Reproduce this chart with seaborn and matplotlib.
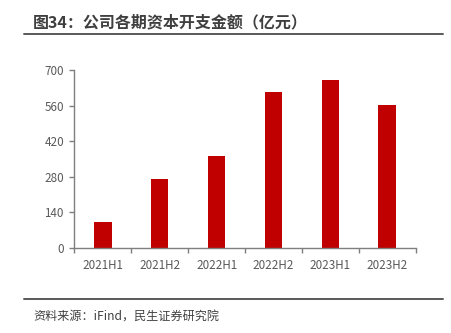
import matplotlib
matplotlib.use("Agg")
import matplotlib.pyplot as plt
from matplotlib.lines import Line2D
from matplotlib.ticker import FixedLocator
import seaborn as sns
import pandas as pd

# Capital expenditure by half-year (100 million yuan)
periods = ["2021H1", "2021H2", "2022H1", "2022H2", "2023H1", "2023H2"]
capex = [102, 270, 360, 613, 660, 562]
y_ticks = [0, 140, 280, 420, 560, 700]

title = "图34：公司各期资本开支金额（亿元）"
source = "资料来源：iFind，民生证券研究院"

sns.set_theme(style="white")
plt.rcParams["font.family"] = ["Noto Sans CJK SC", "DejaVu Sans"]

df = pd.DataFrame({"period": periods, "capex": capex})

fig = plt.figure(figsize=(4.52, 3.33), dpi=100)
ax = fig.add_axes([0.1644, 0.2562, 0.7553, 0.5327])

sns.barplot(data=df, x="period", y="capex", color="#C00000", width=0.31,
            saturation=1, linewidth=0, ax=ax)

axis_color = "#7f7f7f"
label_color = "#595959"

ax.set_xlim(-0.5, len(periods) - 0.5)
ax.set_ylim(0, 700)
ax.set_yticks(y_ticks)
ax.set_xlabel("")
ax.set_ylabel("")

for side in ("top", "right"):
    ax.spines[side].set_visible(False)
for side in ("left", "bottom"):
    ax.spines[side].set_color(axis_color)
    ax.spines[side].set_linewidth(1.0)

# category boundaries carry the x tick marks; labels sit at bar centres
ax.xaxis.set_minor_locator(FixedLocator([i - 0.5 for i in range(len(periods) + 1)]))
ax.tick_params(axis="x", which="major", length=0, pad=8,
               labelsize=8.4, labelcolor=label_color)
ax.tick_params(axis="x", which="minor", bottom=True, length=3.5,
               width=1.0, color=axis_color)
ax.tick_params(axis="y", left=True, length=3.5, width=1.0, color=axis_color,
               labelsize=8.4, labelcolor=label_color, pad=4)

# heading and footer with their rules
fig.text(0.073, 0.934, title, fontsize=11.5, fontweight="bold",
         color="#3f3f3f", va="center", ha="left")
fig.add_artist(Line2D([0.053, 0.979], [0.897, 0.897], color="#595959",
                      linewidth=1.4, transform=fig.transFigure))
fig.add_artist(Line2D([0.053, 0.979], [0.1036, 0.1036], color="#595959",
                      linewidth=1.4, transform=fig.transFigure))
fig.text(0.073, 0.049, source, fontsize=8.7, color="#404040",
         va="center", ha="left")

fig.savefig("out.png", dpi=100)
